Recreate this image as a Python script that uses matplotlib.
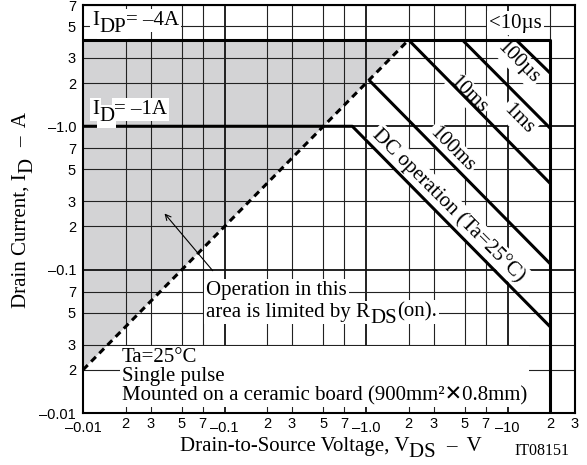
import matplotlib
matplotlib.use("Agg")
import matplotlib.pyplot as plt
from matplotlib.transforms import offset_copy

plt.rcParams['font.family'] = ['Liberation Serif', 'DejaVu Sans']

# SOA boundary and pulse lines (V, A)
rds_v = [0.01, 2.0]
rds_i = [0.02, 4.0]
limit_v = [0.01, 20, 20]
limit_i = [4.0, 4.0, 0.01]
dc_v = [0.01, 0.8, 20]
dc_i = [1.0, 1.0, 0.04]
ms100_v = [1.05, 20]
ms100_i = [2.1, 0.11]
ms10_v = [2.0, 20]
ms10_i = [4.0, 0.4]
ms1_v = [4.8, 20]
ms1_i = [4.0, 0.97]
us100_v = [11.5, 20]
us100_i = [4.0, 2.35]
shade_v = [0.01, 2.0, 0.01]
shade_i = [0.02, 4.0, 4.0]

x_major = [0.01, 0.1, 1.0, 10]
x_major_lbl = ['–0.01', '–0.1', '–1.0', '–10']
x_minor = [0.02, 0.03, 0.05, 0.07, 0.2, 0.3, 0.5, 0.7, 2, 3, 5, 7, 20, 30]
x_minor_lbl = ['2', '3', '5', '7'] * 3 + ['2', '3']
y_major = [0.01, 0.1, 1.0]
y_major_lbl = ['–0.01', '–0.1', '–1.0']
y_minor = [0.02, 0.03, 0.05, 0.07, 0.2, 0.3, 0.5, 0.7, 2, 3, 5, 7]
y_minor_lbl = ['2', '3', '5', '7'] * 3

fig = plt.figure(figsize=(5.87, 4.65), dpi=100)
ax = fig.add_axes([0.1414, 0.1118, 0.8382, 0.8772])
ax.set_xscale('log')
ax.set_yscale('log')
ax.set_xlim(0.01, 30)
ax.set_ylim(0.01, 7)
renderer = fig.canvas.get_renderer()
fs = 15


def width_pt(s):
    # measure with a bar so trailing spaces count
    t1 = fig.text(0, 0, s + '|', fontsize=fs)
    t2 = fig.text(0, 0, '|', fontsize=fs)
    w = t1.get_window_extent(renderer).width - t2.get_window_extent(renderer).width
    t1.remove()
    t2.remove()
    return w * 72 / fig.dpi


def rich(x, y, pieces, trans, ha='left', vertical=False, box=False, zorder=3):
    # pieces: (text, is_subscript); subscripts keep full size, only drop down
    widths = [width_pt(s) for s, _ in pieces]
    pos = -sum(widths) / 2 if ha == 'center' else 0
    drop = 0.33 * fs
    rot = 90 if vertical else 0
    for (s, is_sub), w in zip(pieces, widths):
        d = drop if is_sub else 0
        if vertical:
            tr = offset_copy(trans, fig=fig, x=d, y=pos, units='points')
        else:
            tr = offset_copy(trans, fig=fig, x=pos, y=-d, units='points')
        if box:
            fig.text(x, y, s, transform=tr, fontsize=fs, ha='left', va='baseline', color='white',
                     rotation=rot, rotation_mode='anchor', zorder=zorder - 0.1,
                     bbox=dict(facecolor='white', edgecolor='none', pad=1.5))
        fig.text(x, y, s, transform=tr, fontsize=fs, ha='left', va='baseline',
                 rotation=rot, rotation_mode='anchor', zorder=zorder)
        pos += w


ax.fill(shade_v, shade_i, color='#d3d3d5', lw=0, zorder=1)

ax.set_xticks(x_major, x_major_lbl)
ax.set_xticks(x_minor, x_minor_lbl, minor=True)
ax.set_yticks(y_major, y_major_lbl)
ax.set_yticks(y_minor, y_minor_lbl, minor=True)
ax.tick_params(which='both', length=0, labelsize=10.5, labelfontfamily='Liberation Sans')
ax.tick_params(axis='x', which='major', pad=6)
ax.tick_params(axis='x', which='minor', pad=3)
ax.tick_params(axis='y', which='both', pad=5)
ax.grid(which='major', color='#111111', lw=1.3)
ax.grid(which='minor', color='#222222', lw=0.8)
for s in ax.spines.values():
    s.set_linewidth(1.5)

lw = 2.2
ax.plot(rds_v, rds_i, color='k', lw=lw, ls=(0, (2.2, 1.6)), zorder=5)
for v, i in [(limit_v, limit_i), (dc_v, dc_i), (ms100_v, ms100_i),
             (ms10_v, ms10_i), (ms1_v, ms1_i), (us100_v, us100_i)]:
    ax.plot(v, i, color='k', lw=lw, solid_capstyle='butt', zorder=5)

box = dict(facecolor='white', edgecolor='none', pad=1.5)
td = ax.transData
rich(0.0116, 5.09, [('I', 0), ('DP', 1), ('= –4A', 0)], td, box=True)
rich(0.0116, 1.21, [('I', 0), ('D', 1), ('= –1A', 0)], td, box=True)
ax.text(11.4, 5.25, '<10µs', fontsize=fs, ha='center', va='center', bbox=box, zorder=3)
ax.text(0.0746, 0.0669, 'Operation in this', fontsize=fs, ha='left', va='baseline', bbox=box, zorder=3)
rich(0.0746, 0.0669, [('area is limited by R', 0), ('DS', 1), ('(on).', 0)],
     offset_copy(td, fig=fig, y=-15.8, units='points'), box=True)
ax.text(0.0188, 0.0179, 'Ta=25°C\nSingle pulse\nMounted on a ceramic board (900mm²✕0.8mm)',
        fontsize=fs, ha='left', va='center', linespacing=0.98, bbox=box, zorder=3)
ax.annotate('', xy=(0.0366, 0.255), xytext=(0.085, 0.095),
            arrowprops=dict(arrowstyle='->', color='k', lw=0.8), zorder=3)

rot = dict(rotation=-45, rotation_mode='anchor', ha='center', va='center', fontsize=fs, bbox=box, zorder=3)
ax.text(11.9, 2.8, '100µs', **rot)
ax.text(5.3, 1.67, '10ms', **rot)
ax.text(11.9, 1.12, '1ms', **rot)
ax.text(4.04, 0.69, '100ms', **rot)
ax.text(3.85, 0.28, 'DC operation (Ta=25°C)', **rot)

rich(0.564, 0.031, [('Drain-to-Source Voltage, V', 0), ('DS  ', 1), ('–  V', 0)],
     fig.transFigure, ha='center')
rich(0.0443, 0.548, [('Drain Current, I', 0), ('D  ', 1), ('–  A', 0)],
     fig.transFigure, ha='center', vertical=True)
fig.text(0.923, 0.03, 'IT08151', fontsize=11.5, ha='center', va='center')

fig.savefig('out.png', dpi=100)
